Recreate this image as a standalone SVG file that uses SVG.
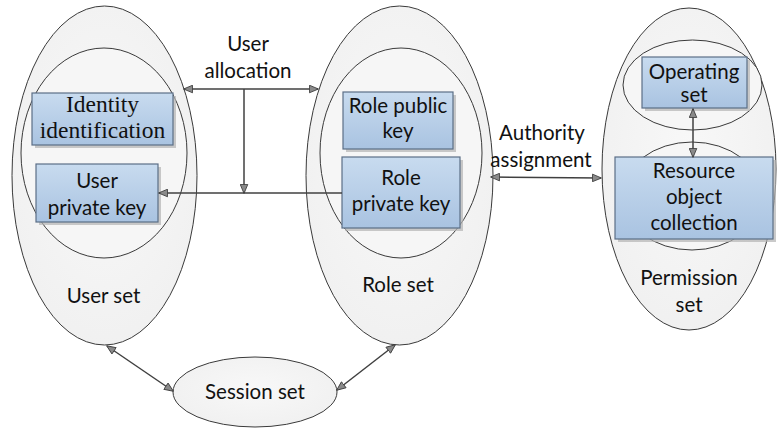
<svg xmlns="http://www.w3.org/2000/svg" width="777" height="428" viewBox="0 0 777 428">
  <defs>
    <linearGradient id="boxFill" x1="0" y1="0" x2="0" y2="1">
      <stop offset="0" stop-color="#c8dbef"/>
      <stop offset="1" stop-color="#a9c3e1"/>
    </linearGradient>
    <radialGradient id="setFill" cx="0.5" cy="0.45" r="0.6">
      <stop offset="0" stop-color="#f8f8f8"/>
      <stop offset="1" stop-color="#f0f0f0"/>
    </radialGradient>
    <marker id="head" viewBox="0 0 10 10" refX="9.5" refY="5" markerWidth="10" markerHeight="9" markerUnits="userSpaceOnUse" orient="auto-start-reverse">
      <path d="M0,0.8 L10,5 L0,9.2 Z" fill="#8a8a8a" stroke="#404040" stroke-width="1"/>
    </marker>
  </defs>
  <style>
    .set { fill: url(#setFill); stroke: #3a3a3a; stroke-width: 1; }
    .inner { fill: #f6f6f6; stroke: #3a3a3a; stroke-width: 1; }
    .box { fill: url(#boxFill); stroke: #5b6e86; stroke-width: 1.2; }
    .shadow { fill: #b4b4b4; opacity: 0.7; }
    .t { font-family: Lato, "Open Sans", sans-serif; font-size: 20.5px; fill: #111; text-anchor: middle; }
    .serif { font-family: "Liberation Serif", "DejaVu Serif", serif; font-size: 23.5px; fill: #111; text-anchor: middle; }
    .link { fill: none; stroke: #404040; stroke-width: 1.5; }
  </style>

  <g id="user-set">
    <ellipse class="set" cx="104.5" cy="175.5" rx="92.5" ry="169.5"/>
    <ellipse class="inner" cx="104" cy="153" rx="83" ry="105"/>
    <text class="t" x="103.5" y="303">User set</text>
  </g>

  <g id="role-set">
    <ellipse class="set" cx="399.5" cy="175.5" rx="93.5" ry="169.5"/>
    <ellipse class="inner" cx="401" cy="153" rx="81" ry="105"/>
    <text class="t" x="398" y="292">Role set</text>
  </g>

  <g id="permission-set">
    <ellipse class="set" cx="689" cy="169" rx="87" ry="161"/>
    <ellipse class="inner" cx="692.5" cy="85" rx="69.5" ry="45"/>
    <ellipse class="inner" cx="692" cy="196" rx="70" ry="54"/>
    <text class="t" x="689" y="285">Permission</text>
    <text class="t" x="689" y="312">set</text>
  </g>

  <g id="session-set">
    <ellipse class="set" cx="255" cy="392" rx="82" ry="35"/>
    <text class="t" x="255" y="399">Session set</text>
  </g>

  <g id="identity-identification">
    <rect class="shadow" x="35" y="96" width="141" height="52"/>
    <rect class="box" x="32" y="93" width="141" height="52"/>
    <text class="serif" x="102.5" y="112">Identity</text>
    <text class="serif" x="102.5" y="138">identification</text>
  </g>

  <g id="user-private-key">
    <rect class="shadow" x="39" y="167" width="122" height="58"/>
    <rect class="box" x="36" y="164" width="122" height="58"/>
    <text class="t" x="97" y="188">User</text>
    <text class="t" x="97" y="215">private key</text>
  </g>

  <g id="role-public-key">
    <rect class="shadow" x="346" y="95" width="110" height="57"/>
    <rect class="box" x="343" y="92" width="110" height="57"/>
    <text class="t" x="398" y="113">Role public</text>
    <text class="t" x="398" y="138">key</text>
  </g>

  <g id="role-private-key">
    <rect class="shadow" x="345" y="160" width="118" height="71"/>
    <rect class="box" x="342" y="157" width="118" height="71"/>
    <text class="t" x="401" y="185">Role</text>
    <text class="t" x="401" y="211">private key</text>
  </g>

  <g id="operating-set">
    <rect class="shadow" x="645" y="60" width="105" height="51"/>
    <rect class="box" x="642" y="57" width="105" height="51"/>
    <text class="t" x="694" y="79">Operating</text>
    <text class="t" x="694" y="102">set</text>
  </g>

  <g id="resource-object-collection">
    <rect class="shadow" x="618" y="160" width="158" height="82"/>
    <rect class="box" x="615" y="157" width="158" height="82"/>
    <text class="t" x="694" y="178">Resource</text>
    <text class="t" x="694" y="204">object</text>
    <text class="t" x="694" y="230">collection</text>
  </g>

  <g id="labels">
    <text class="t" x="248" y="51">User</text>
    <text class="t" x="248" y="78">allocation</text>
    <text class="t" x="542" y="140">Authority</text>
    <text class="t" x="541" y="167">assignment</text>
  </g>

  <g id="connectors">
    <line class="link" x1="184" y1="89" x2="318" y2="89" marker-start="url(#head)" marker-end="url(#head)"/>
    <line class="link" x1="244" y1="89" x2="244" y2="193" marker-end="url(#head)"/>
    <line class="link" x1="342" y1="193" x2="159" y2="193" marker-end="url(#head)"/>
    <line class="link" x1="491" y1="177" x2="601" y2="178" marker-start="url(#head)" marker-end="url(#head)"/>
    <line class="link" x1="693" y1="109" x2="693" y2="157" marker-start="url(#head)" marker-end="url(#head)"/>
    <line class="link" x1="107" y1="346" x2="173" y2="391" marker-start="url(#head)" marker-end="url(#head)"/>
    <line class="link" x1="395" y1="345" x2="337" y2="390" marker-start="url(#head)" marker-end="url(#head)"/>
  </g>
</svg>
